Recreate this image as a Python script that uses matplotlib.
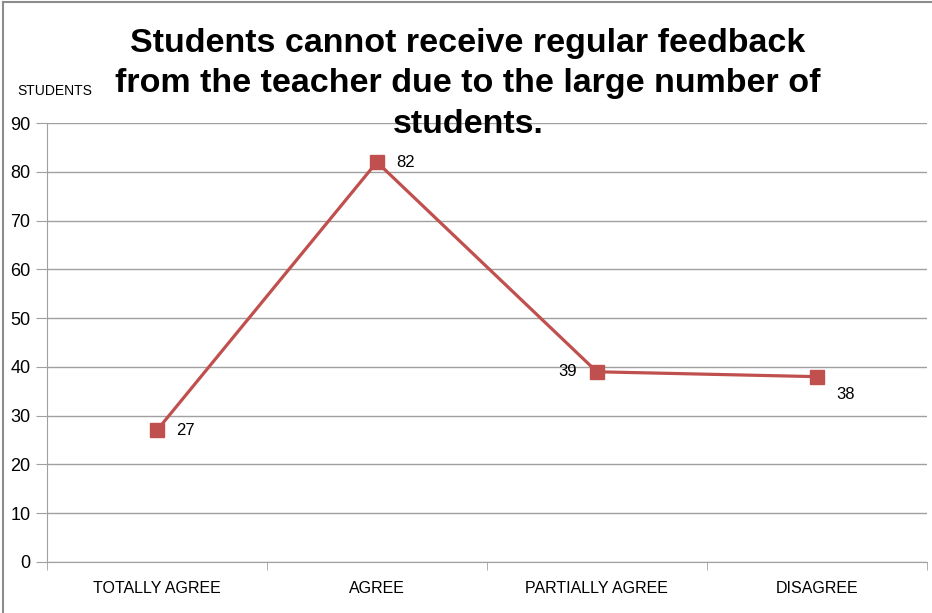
import matplotlib.pyplot as plt
from matplotlib.lines import Line2D

categories = ["TOTALLY AGREE", "AGREE", "PARTIALLY AGREE", "DISAGREE"]
students = [27, 82, 39, 38]
yticks = [0, 10, 20, 30, 40, 50, 60, 70, 80, 90]
title = ("Students cannot receive regular feedback\n"
         "from the teacher due to the large number of\n"
         "students.")

plt.rcParams['font.family'] = ['Liberation Sans', 'DejaVu Sans']

fig = plt.figure(figsize=(9.32, 6.13), dpi=100)
ax = fig.add_axes([0.0504, 0.0832, 0.944, 0.7161])

x = list(range(len(categories)))
ax.plot(x, students, color='#C0504D', lw=2.3, marker='s', markersize=10,
        markerfacecolor='#C0504D', markeredgecolor='#C0504D', zorder=3)

# data labels, placed like the Excel original
offsets = [(14, 0, 'left', 'center'), (14, 0, 'left', 'center'),
           (-14, 0, 'right', 'center'), (14, -13, 'left', 'center')]
for xi, v, (dx, dy, ha, va) in zip(x, students, offsets):
    ax.annotate(str(v), (xi, v), xytext=(dx, dy), textcoords='offset points',
                ha=ha, va=va, fontsize=12)

ax.set_xlim(-0.5, 3.5)
ax.set_ylim(0, 90)
ax.set_yticks(yticks)
ax.set_xticks(x)
ax.set_xticklabels(categories, fontsize=11.5)
ax.set_xticks([-0.5, 0.5, 1.5, 2.5, 3.5], minor=True)
ax.tick_params(axis='x', which='major', length=0, pad=14)
ax.tick_params(axis='x', which='minor', length=6, color='#A0A0A0', direction='out')
ax.tick_params(axis='y', length=8, color='#A0A0A0', labelsize=13, pad=4)
ax.grid(axis='y', color='#A0A0A0', lw=1)
ax.set_axisbelow(True)
for side in ['top', 'right']:
    ax.spines[side].set_visible(False)
for side in ['left', 'bottom']:
    ax.spines[side].set_color('#A0A0A0')

fig.text(0.502, 0.955, title, ha='center', va='top', fontsize=24.5,
         fontweight='bold', linespacing=1.4)
fig.text(0.019, 0.851, "STUDENTS", ha='left', va='center', fontsize=10)

# outer frame of the chart area
fig.add_artist(Line2D([0.003, 0.003], [0, 0.997], transform=fig.transFigure,
                      color='#8C8C8C', lw=1.5))
fig.add_artist(Line2D([0.003, 1], [0.997, 0.997], transform=fig.transFigure,
                      color='#8C8C8C', lw=1.5))

fig.savefig("out.png", dpi=100)
plt.close(fig)
